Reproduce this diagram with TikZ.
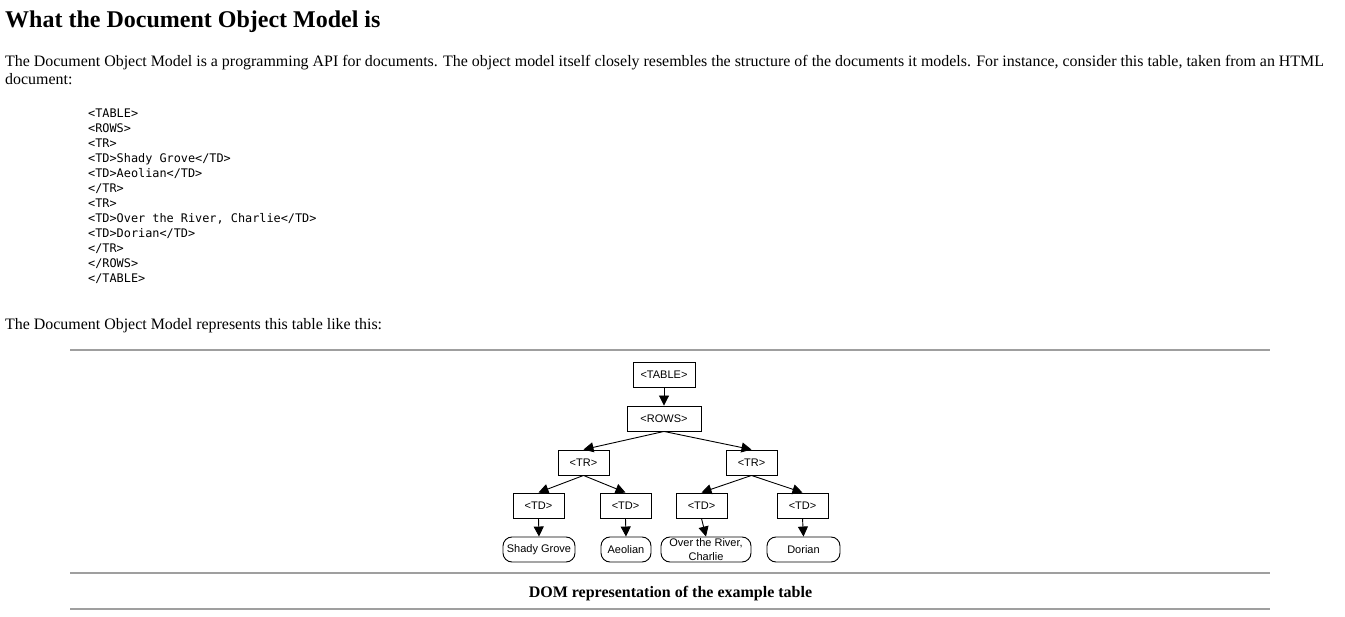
\documentclass[tikz,border=0pt]{standalone}
\usepackage{fontspec}
\setmainfont{Liberation Serif}
\setsansfont{Liberation Sans}
\setmonofont{DejaVu Sans Mono}
\usetikzlibrary{arrows.meta}
\begin{document}
\begin{tikzpicture}[x=1pt,y=-1pt,
  heading/.style={anchor=base west, inner sep=0pt, font=\bfseries\fontsize{24}{28}\selectfont},
  body/.style={anchor=base west, inner sep=0pt, font=\fontsize{15.93}{19}\selectfont},
  code/.style={anchor=base west, inner sep=0pt, font=\ttfamily\fontsize{11.85}{15}\selectfont},
  elem/.style={draw, line width=0.9pt, minimum height=25pt, inner sep=0pt, font=\sffamily\fontsize{11}{14}\selectfont},
  leaf/.style={elem, rounded corners=9pt, align=center},
  link/.style={-{Triangle[width=10pt,length=10pt]}, line width=0.9pt},
  rulestyle/.style={draw=gray!75, line width=1.5pt}]
\useasboundingbox (0,0) rectangle (1345,617);
\fill[white] (0,0) rectangle (1345,617);

\node[heading] (title) at (5,27.5) {What the Document Object Model is};
\node[body] (p1a) at (5,67) {The Document Object Model is a programming API for documents. The object model itself closely resembles the structure of the documents it models. For instance, consider this table, taken from an HTML};
\node[body] (p1b) at (5,85) {document:};

\node[code] (c1) at (88,117.3) {<TABLE>};
\node[code] (c2) at (88,132.3) {<ROWS>};
\node[code] (c3) at (88,147.3) {<TR>};
\node[code] (c4) at (88,162.3) {<TD>Shady Grove</TD>};
\node[code] (c5) at (88,177.3) {<TD>Aeolian</TD>};
\node[code] (c6) at (88,192.3) {</TR>};
\node[code] (c7) at (88,207.3) {<TR>};
\node[code] (c8) at (88,222.3) {<TD>Over the River, Charlie</TD>};
\node[code] (c9) at (88,237.3) {<TD>Dorian</TD>};
\node[code] (c10) at (88,252.3) {</TR>};
\node[code] (c11) at (88,267.3) {</ROWS>};
\node[code] (c12) at (88,282.3) {</TABLE>};

\node[body] (p2) at (5,330) {The Document Object Model represents this table like this:};

\draw[rulestyle] (70,350) -- (1270,350);
\draw[rulestyle] (70,573) -- (1270,573);
\draw[rulestyle] (70,609) -- (1270,609);

\node[elem, minimum width=62pt] (table) at (664,374.5) {<TABLE>};
\node[elem, minimum width=74pt] (rows) at (664,418.5) {<ROWS>};
\node[elem, minimum width=51pt] (trl) at (583.5,462.5) {<TR>};
\node[elem, minimum width=51pt] (trr) at (751.5,462.5) {<TR>};
\node[elem, minimum width=51pt] (td1) at (538.5,505.5) {<TD>};
\node[elem, minimum width=51pt] (td2) at (625.5,505.5) {<TD>};
\node[elem, minimum width=51pt] (td3) at (701.5,505.5) {<TD>};
\node[elem, minimum width=51pt] (td4) at (802.5,505.5) {<TD>};
\node[leaf, minimum width=72pt] (l1) at (539,549.5) {Shady Grove};
\node[leaf, minimum width=50pt] (l2) at (626,549.5) {Aeolian};
\node[leaf, minimum width=90pt] (l3) at (706,549.5) {Over the River,\\Charlie};
\node[leaf, minimum width=73pt] (l4) at (803.5,549.5) {Dorian};

\draw[link] (table.south) -- (rows.north);
\draw[link] (rows.south) -- (trl.north);
\draw[link] (rows.south) -- (trr.north);
\draw[link] (trl.south) -- (td1.north);
\draw[link] (trl.south) -- (td2.north);
\draw[link] (trr.south) -- (td3.north);
\draw[link] (trr.south) -- (td4.north);
\draw[link] (td1.south) -- (l1.north);
\draw[link] (td2.south) -- (l2.north);
\draw[link] (td3.south) -- (l3.north);
\draw[link] (td4.south) -- (l4.north);

\node[anchor=base, inner sep=0pt, font=\bfseries\fontsize{16}{19}\selectfont] (caption) at (670.5,597) {DOM representation of the example table};
\end{tikzpicture}
\end{document}
